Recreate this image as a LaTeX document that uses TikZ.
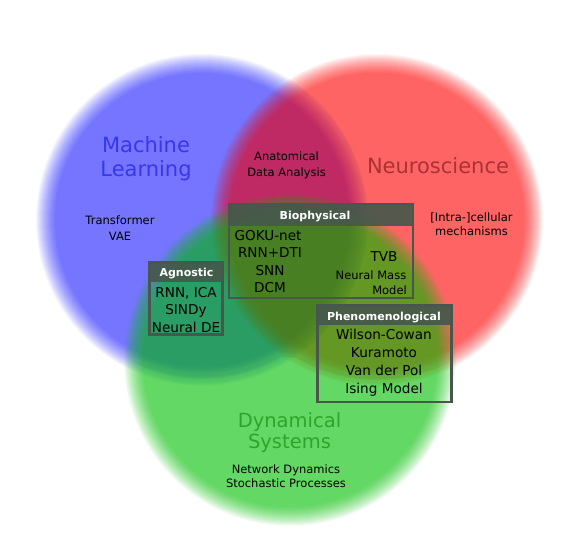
\documentclass[tikz,border=0pt]{standalone}
\usepackage{fontspec}
\setmainfont{DejaVu Sans}
\definecolor{cblue}{RGB}{0,0,255}
\definecolor{cred}{RGB}{255,0,0}
\definecolor{cgreen}{RGB}{0,198,0}
\definecolor{mltext}{RGB}{55,55,235}
\definecolor{nstext}{RGB}{170,50,55}
\definecolor{dstext}{RGB}{45,165,45}
\definecolor{framec}{RGB}{72,86,78}
\definecolor{headc}{RGB}{70,88,76}
\tikzset{
  bigtitle/.style={inner sep=0pt, font=\fontsize{21}{24}\selectfont, text height=15.3pt, text depth=0pt},
  dstitle/.style={inner sep=0pt, font=\fontsize{19.5}{22}\selectfont, text height=14.2pt, text depth=0pt},
  smalllabel/.style={inner sep=0pt, font=\fontsize{11.5}{14}\selectfont, text height=8.4pt, text depth=0pt},
  boxtext/.style={inner sep=0pt, font=\fontsize{13.6}{17}\selectfont, text height=9.9pt, text depth=0pt},
  nmtext/.style={inner sep=0pt, font=\fontsize{11.5}{14}\selectfont, text height=8.4pt, text depth=0pt},
  headtext/.style={inner sep=0pt, font=\bfseries\fontsize{11}{13}\selectfont, text=white, text height=8pt, text depth=0pt},
  frame/.style={draw=framec, line width=2.4pt},
  header/.style={fill=headc, fill opacity=0.92}
}
\begin{document}
\begin{tikzpicture}[x=1pt,y=-1pt]
\fill[white] (0,0) rectangle (581,553);
\useasboundingbox (0,0) rectangle (581,553);
% soft-edged circles (stacked disks)
\foreach \k in {1,...,20}{
  \pgfmathsetmacro\rr{146+\k}
  \fill[cblue, fill opacity=0.03406] (202,220) circle[radius=\rr pt];
}
\foreach \k in {1,...,20}{
  \pgfmathsetmacro\rr{146+\k}
  \fill[cred, fill opacity=0.04478] (377,220) circle[radius=\rr pt];
}
\foreach \k in {1,...,20}{
  \pgfmathsetmacro\rr{146+\k}
  \fill[cgreen, fill opacity=0.04478] (290,360) circle[radius=\rr pt];
}
% titles
\node[bigtitle, text=mltext] (ml1) at (146,144.5) {Machine};
\node[bigtitle, text=mltext] (ml2) at (146,168.5) {Learning};
\node[bigtitle, text=nstext] (ns) at (438,165.5) {Neuroscience};
\node[dstitle, text=dstext] (ds1) at (289.5,420) {Dynamical};
\node[dstitle, text=dstext] (ds2) at (289.5,441.5) {Systems};
% small labels
\node[smalllabel] (tr) at (120,220.5) {Transformer};
\node[smalllabel] (vae) at (120,236) {VAE};
\node[smalllabel] (an1) at (286.5,156.5) {Anatomical};
\node[smalllabel] (an2) at (286.5,172) {Data Analysis};
\node[smalllabel] (ic1) at (471.5,217) {[Intra-]cellular};
\node[smalllabel] (ic2) at (471.5,231) {mechanisms};
\node[smalllabel] (nd1) at (286,469.5) {Network Dynamics};
\node[smalllabel] (nd2) at (286,483.5) {Stochastic Processes};
% Biophysical box
\fill[header] (229,204) rectangle (413,226);
\draw[frame] (229,204) rectangle (413,298);
\node[headtext] (bioh) at (315,215.5) {Biophysical};
\node[boxtext] (goku) at (268,236) {GOKU-net};
\node[boxtext] (rnndti) at (270,253) {RNN+DTI};
\node[boxtext] (snn) at (270,271) {SNN};
\node[boxtext] (dcm) at (270,288) {DCM};
\node[boxtext] (tvb) at (384,257) {TVB};
\node[nmtext] (nm1) at (371,275.5) {Neural Mass};
\node[nmtext, anchor=east] (nm2) at (407,290) {Model};
% Agnostic box
\fill[header] (149.5,262.5) rectangle (222.5,282.5);
\draw[frame] (149.5,262.5) rectangle (222.5,334.5);
\node[headtext] (agh) at (186.5,272.5) {Agnostic};
\node[boxtext] (rnnica) at (186,292.5) {RNN, ICA};
\node[boxtext] (sindy) at (186,310) {SINDy};
\node[boxtext] (nde) at (186,327.5) {Neural DE};
% Phenomenological box
\fill[header] (317.5,305.5) rectangle (451.5,325.5);
\draw[frame] (317.5,305.5) rectangle (451.5,402);
\node[headtext] (phh) at (384,316) {Phenomenological};
\node[boxtext] (wc) at (384,335) {Wilson-Cowan};
\node[boxtext] (kur) at (384,353) {Kuramoto};
\node[boxtext] (vdp) at (384,371) {Van der Pol};
\node[boxtext] (ising) at (384,389) {Ising Model};
\end{tikzpicture}
\end{document}
